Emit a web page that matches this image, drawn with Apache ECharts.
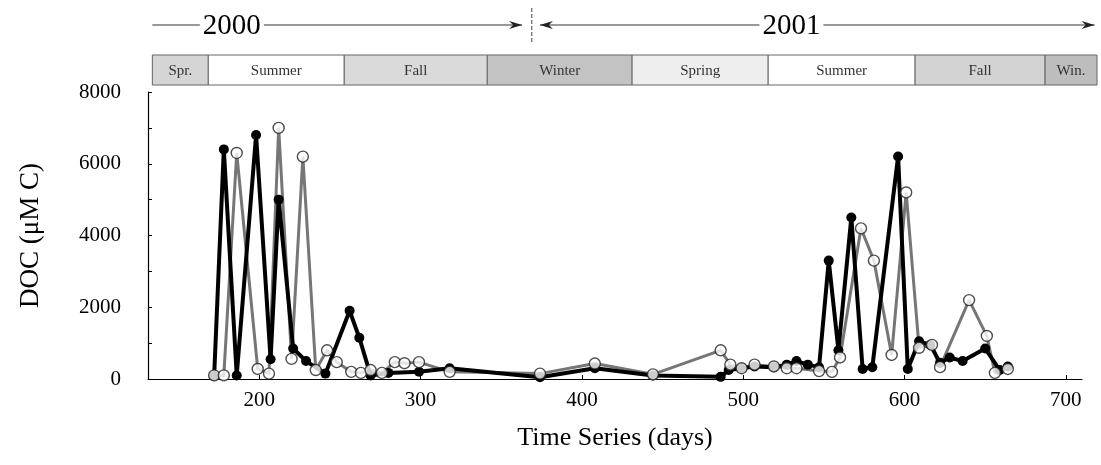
<!DOCTYPE html>
<html><head><meta charset="utf-8">
<script src="https://cdn.jsdelivr.net/npm/echarts@6/dist/echarts.min.js"></script>
<style>html,body{margin:0;padding:0;background:#fff}#c{width:1101px;height:465px}</style>
</head><body><div id="c"></div>
<script>
// ---- data ----
const xTickValues = [200, 300, 400, 500, 600, 700];
const yTickLabels = [0, 2000, 4000, 6000, 8000];
const blackDays   = [172, 178, 186, 198, 207, 212, 221, 229, 241, 256, 262, 269, 280, 299, 318, 374, 408, 444, 486, 491, 499, 507, 519, 527, 533, 540, 547, 553, 559, 567, 574, 580, 596, 602, 609, 616, 622, 628, 636, 650, 659, 664];
const blackValues = [80, 6400, 100, 6800, 550, 5000, 850, 500, 150, 1900, 1150, 100, 170, 200, 300, 50, 300, 100, 60, 250, 300, 350, 330, 400, 500, 400, 330, 3300, 800, 4500, 280, 330, 6200, 280, 1050, 950, 450, 600, 500, 850, 250, 350];
const grayDays    = [172, 178, 186, 199, 206, 212, 220, 227, 235, 242, 248, 257, 263, 269, 276, 284, 290, 299, 318, 374, 408, 444, 486, 492, 499, 507, 519, 527, 533, 547, 555, 560, 573, 581, 592, 601, 609, 617, 622, 640, 651, 656, 664];
const grayValues  = [100, 100, 6300, 280, 150, 7000, 560, 6200, 250, 800, 470, 200, 170, 250, 170, 470, 440, 470, 200, 150, 430, 130, 800, 400, 300, 400, 350, 300, 300, 220, 200, 600, 4200, 3300, 670, 5200, 870, 950, 330, 2200, 1200, 170, 280];
const seasonNames = ['Spr.', 'Summer', 'Fall', 'Winter', 'Spring', 'Summer', 'Fall', 'Win.'];
const seasonStart = [133.7, 168.4, 252.7, 341.4, 431.2, 515.6, 606.7, 687.3];
const seasonEnd   = [168.4, 252.7, 341.4, 431.2, 515.6, 606.7, 687.3, 719.5];
const seasonShade = ['#d5d5d5', '#ffffff', '#dadada', '#c3c3c3', '#eeeeee', '#ffffff', '#d3d3d3', '#bdbdbd'];
const yearNames   = ['2000', '2001'];
const yearStart   = [133.7, 374];
const yearLabelAt = [183, 530];
const yearEnd     = [363, 718];
const yearDivider = 369;

const SERIF = '"Liberation Serif", "DejaVu Serif", serif';
const chart = echarts.init(document.getElementById('c'), null, {renderer: 'canvas'});

const grayData = grayDays.map((d, i) => [d, grayValues[i]]);
const blackData = blackDays.map((d, i) => [d, blackValues[i]]);

function seasonItem(params, api) {
  const i = params.dataIndex;
  const s = api.coord([api.value(0), 1]);
  const e = api.coord([api.value(1), 0]);
  return {
    type: 'group',
    children: [
      {type: 'rect', shape: {x: s[0], y: s[1], width: e[0] - s[0], height: e[1] - s[1]},
       style: {fill: seasonShade[i], stroke: '#666', lineWidth: 1}},
      {type: 'text', style: {text: seasonNames[i], x: (s[0] + e[0]) / 2, y: (s[1] + e[1]) / 2 + 1,
        align: 'center', verticalAlign: 'middle', fontFamily: SERIF, fontSize: 15, fill: '#333'}}
    ]
  };
}

function yearItem(params, api) {
  const i = params.dataIndex;
  const y = params.coordSys.y - 30;
  const a = api.coord([api.value(0), 0])[0];
  const m = api.coord([api.value(1), 0])[0];
  const b = api.coord([api.value(2), 0])[0];
  const half = 32;
  const kids = [
    {type: 'line', shape: {x1: a, y1: y, x2: m - half, y2: y}, style: {stroke: '#333', lineWidth: 1}},
    {type: 'line', shape: {x1: m + half, y1: y, x2: b, y2: y}, style: {stroke: '#333', lineWidth: 1}},
    {type: 'polygon', shape: {points: [[b, y], [b - 13, y - 4], [b - 9, y], [b - 13, y + 4]]}, style: {fill: '#222'}},
    {type: 'text', style: {text: yearNames[i], x: m, y: y + 1, align: 'center', verticalAlign: 'middle',
      fontFamily: SERIF, fontSize: 29, fill: '#000'}}
  ];
  if (i === 1) {
    kids.push({type: 'polygon', shape: {points: [[a, y], [a + 13, y - 4], [a + 9, y], [a + 13, y + 4]]}, style: {fill: '#222'}});
  }
  if (i === 0) {
    const d = api.coord([yearDivider, 0])[0];
    kids.push({type: 'line', shape: {x1: d, y1: y - 17, x2: d, y2: y + 17}, style: {stroke: '#444', lineWidth: 1, lineDash: [4, 2]}});
  }
  return {type: 'group', children: kids};
}

chart.setOption({
  animation: false,
  backgroundColor: '#fff',
  grid: [
    {left: 148, right: 19, top: 92, bottom: 86},
    {left: 148, right: 4, top: 55, height: 30}
  ],
  xAxis: [
    {type: 'value', gridIndex: 0, min: 131, max: 710,
     name: 'Time Series (days)', nameLocation: 'middle', nameGap: 46,
     nameTextStyle: {fontFamily: SERIF, fontSize: 26, color: '#000'},
     axisLine: {show: true, lineStyle: {color: '#000', width: 1.2}},
     axisTick: {show: true, inside: true, length: 4, customValues: xTickValues, lineStyle: {color: '#000'}},
     axisLabel: {customValues: xTickValues, fontFamily: SERIF, fontSize: 21, color: '#000', margin: 11},
     splitLine: {show: false}},
    {type: 'value', gridIndex: 1, min: 131, max: 719.5, show: false}
  ],
  yAxis: [
    {type: 'value', gridIndex: 0, min: 0, max: 8000, interval: 1000,
     name: 'DOC (\u03bcM C)', nameLocation: 'middle', nameGap: 104, nameRotate: 90,
     nameTextStyle: {fontFamily: SERIF, fontSize: 27, color: '#000'},
     axisLine: {show: true, lineStyle: {color: '#000', width: 1.2}},
     axisTick: {show: true, inside: true, length: 4, lineStyle: {color: '#000'}},
     axisLabel: {fontFamily: SERIF, fontSize: 21, color: '#000', margin: 27,
       formatter: v => (yTickLabels.indexOf(v) >= 0 ? String(v) : '')},
     splitLine: {show: false}},
    {type: 'value', gridIndex: 1, min: 0, max: 1, show: false}
  ],
  series: [
    {type: 'line', name: 'gray', xAxisIndex: 0, yAxisIndex: 0, data: grayData, symbol: 'none',
     lineStyle: {color: '#767676', width: 3}, z: 2},
    {type: 'line', name: 'black', xAxisIndex: 0, yAxisIndex: 0, data: blackData, symbol: 'circle', symbolSize: 10,
     itemStyle: {color: '#000'}, lineStyle: {color: '#000', width: 4}, z: 3},
    {type: 'scatter', name: 'open', xAxisIndex: 0, yAxisIndex: 0, data: grayData, symbol: 'circle', symbolSize: 11,
     itemStyle: {color: '#fff', borderColor: '#222', borderWidth: 1.4}, z: 4},
    {type: 'custom', xAxisIndex: 1, yAxisIndex: 1, renderItem: seasonItem, clip: false,
     data: seasonNames.map((n, i) => [seasonStart[i], seasonEnd[i]]), encode: {x: [0, 1]}, silent: true},
    {type: 'custom', xAxisIndex: 1, yAxisIndex: 1, renderItem: yearItem, clip: false,
     data: yearNames.map((n, i) => [yearStart[i], yearLabelAt[i], yearEnd[i]]), encode: {x: [0, 1, 2]}, silent: true}
  ]
});
</script></body></html>
